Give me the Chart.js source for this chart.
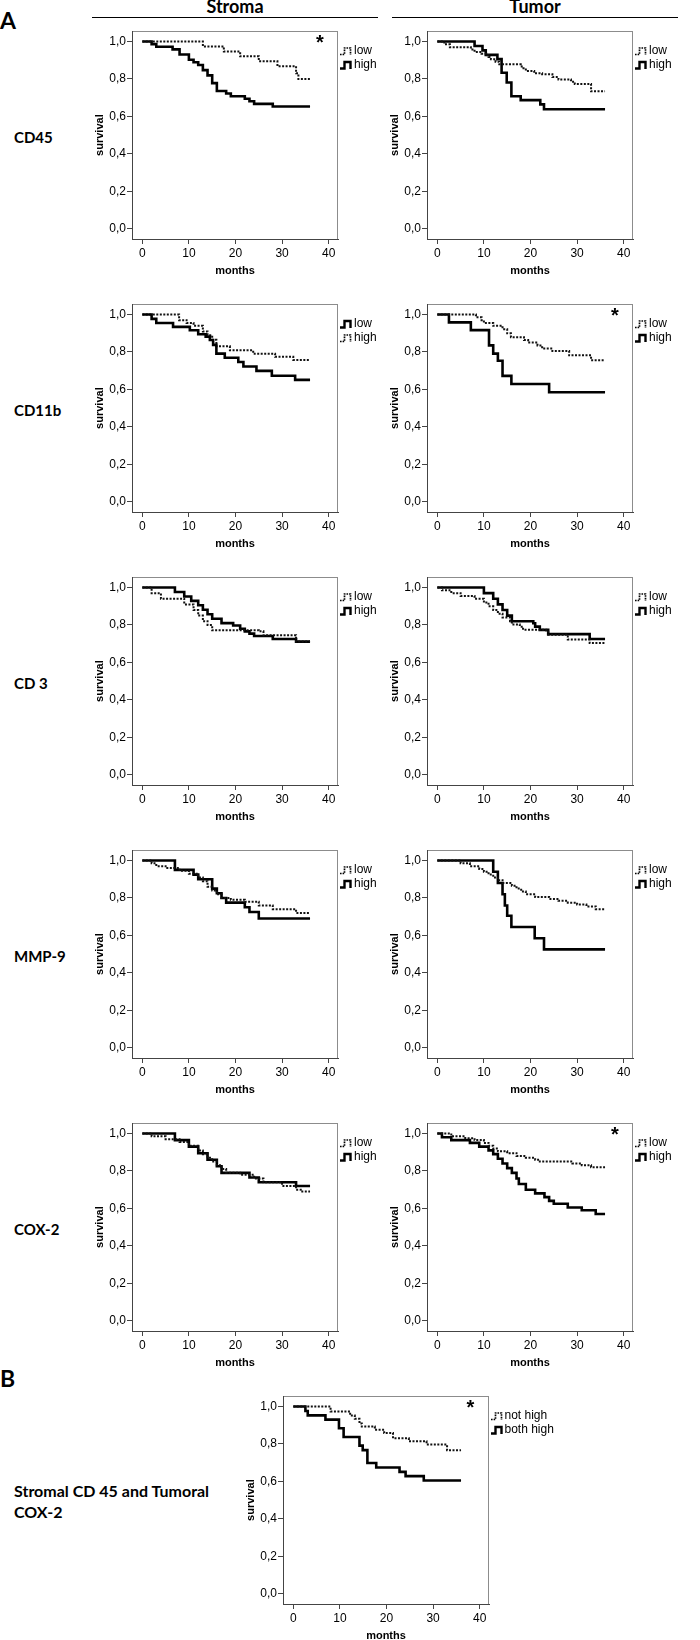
<!DOCTYPE html>
<html lang="en">
<head>
<meta charset="UTF-8">
<title>Survival curves - Stroma / Tumor</title>
<script src="https://cdn.jsdelivr.net/npm/chart.js"></script>
<style>
  body { margin: 0; background: #fff; }
  #page { position: relative; width: 700px; height: 1640px; overflow: hidden; font-family: "Liberation Sans", Arial, sans-serif; color: #000; }
  .abs { position: absolute; white-space: nowrap; }
  .head { font-family: Lato, "Liberation Sans", sans-serif; font-weight: bold; }
  .rule { position: absolute; height: 0; border-top: 1.5px solid #000; }
  .legend { position: absolute; font-size: 12px; line-height: 14px; }
  .legend svg { vertical-align: -2px; }
  .star { position: absolute; font-weight: bold; font-size: 20px; line-height: 20px; }
</style>
</head>
<body>
<div id="page">
  <div class="abs head" style="left:0;top:8px;font-size:23px;line-height:24px;">A</div>
  <div class="abs head" style="left:235px;top:-4px;font-size:18px;line-height:21px;transform:translateX(-50%);">Stroma</div>
  <div class="abs head" style="left:535px;top:-4px;font-size:18px;line-height:21px;transform:translateX(-50%);">Tumor</div>
  <div class="rule" style="left:92px;top:17px;width:286px;"></div>
  <div class="rule" style="left:392px;top:17px;width:286px;"></div>
  <div class="abs head" style="left:0;top:1366px;font-size:23px;line-height:24px;">B</div>
  <div class="abs head" style="left:14px;top:1480px;font-size:16px;line-height:21px;">Stromal CD 45 and Tumoral<br>COX-2</div>
</div>

<script>
// axis ticks
const xTicks = [0, 10, 20, 30, 40];
const yTicks = [0, 0.2, 0.4, 0.6, 0.8, 1.0];
const yTickLabels = ['0,0', '0,2', '0,4', '0,6', '0,8', '1,0'];
const rowLabels = ['CD45', 'CD11b', 'CD 3', 'MMP-9', 'COX-2'];

// Kaplan-Meier steps: [months, survival]
const cd45StromaLow = [[0,1],[13,0.974],[17.5,0.947],[21,0.921],[25,0.895],[29,0.868],[33,0.83],[33.5,0.80],[36,0.80]];
const cd45StromaHigh = [[0,1],[2,0.986],[3,0.972],[6.5,0.958],[8,0.931],[10,0.903],[11,0.889],[12,0.875],[13,0.847],[14,0.819],[15,0.778],[16,0.736],[18,0.722],[19,0.708],[22,0.694],[23,0.681],[24,0.667],[28,0.653],[36,0.653]];
const cd45TumorLow = [[0,1],[1.5,0.985],[2.7,0.97],[7.2,0.958],[8,0.944],[9.5,0.935],[10.5,0.927],[11,0.918],[11.5,0.906],[12.5,0.892],[13.3,0.878],[17.9,0.866],[18.5,0.857],[19,0.843],[20.8,0.83],[22.5,0.825],[24.7,0.81],[26,0.797],[28.7,0.785],[29.5,0.773],[33,0.734],[36,0.734]];
const cd45TumorHigh = [[0,1],[8,0.976],[9.7,0.953],[10.4,0.929],[12.9,0.906],[13.8,0.833],[14.9,0.781],[15.9,0.708],[17.9,0.687],[22.1,0.664],[22.9,0.638],[36,0.638]];

const cd11bStromaLow = [[0,1],[2,0.977],[3,0.955],[6.6,0.934],[10.2,0.916],[12,0.895],[13.6,0.882],[14.5,0.864],[15.2,0.838],[15.9,0.791],[17.7,0.769],[20.6,0.746],[21.7,0.722],[24.5,0.699],[27.8,0.673],[32.8,0.651],[36,0.651]];
const cd11bStromaHigh = [[0,1],[7.9,0.97],[9.5,0.955],[11,0.94],[13,0.91],[14,0.89],[15,0.865],[15.9,0.83],[18.8,0.809],[23.8,0.791],[28.5,0.774],[32.4,0.757],[36,0.757]];
const cd11bTumorLow = [[0,1],[8.3,0.985],[9.5,0.97],[10,0.955],[12,0.94],[14,0.922],[15,0.9],[15.8,0.879],[18.6,0.864],[19.5,0.85],[21.5,0.835],[22.5,0.818],[24.7,0.805],[28.3,0.782],[33,0.756],[36,0.756]];
const cd11bTumorHigh = [[0,1],[2.5,0.958],[7.2,0.917],[11.1,0.835],[12,0.791],[13,0.753],[14,0.672],[15.9,0.629],[24,0.585],[36,0.585]];

const cd3StromaLow = [[0,1],[2,0.97],[4,0.94],[9,0.91],[11,0.88],[12,0.85],[13,0.82],[14,0.80],[15,0.772],[25,0.766],[26,0.745],[33,0.711],[36,0.711]];
const cd3StromaHigh = [[0,1],[7,0.976],[9,0.952],[10.5,0.929],[12,0.905],[13,0.881],[14,0.857],[15,0.833],[17,0.81],[19.5,0.797],[21,0.78],[22,0.766],[23,0.754],[24,0.741],[28,0.725],[33,0.711],[36,0.711]];
const cd3TumorLow = [[0,1],[1,0.985],[3,0.97],[5,0.955],[8,0.94],[10,0.92],[11,0.9],[12,0.88],[13,0.86],[14,0.84],[15.6,0.82],[16,0.803],[17.7,0.791],[18.4,0.774],[23.4,0.77],[23.8,0.748],[27.7,0.739],[28,0.722],[32.7,0.704],[36,0.704]];
const cd3TumorHigh = [[0,1],[10,0.97],[12,0.94],[13,0.91],[14,0.88],[15,0.85],[16,0.82],[20.6,0.809],[21,0.791],[22,0.774],[23.8,0.751],[32.7,0.725],[36,0.725]];

const mmp9StromaLow = [[0,1],[2,0.985],[3,0.97],[5,0.96],[8,0.945],[10,0.93],[12,0.91],[13,0.89],[14,0.86],[15,0.84],[16,0.82],[17,0.8],[19,0.79],[22,0.78],[25,0.76],[28,0.74],[33,0.72],[36,0.72]];
const mmp9StromaHigh = [[0,1],[7,0.95],[11,0.925],[12,0.9],[15,0.85],[16,0.825],[17,0.8],[18,0.775],[22,0.75],[23,0.725],[25,0.69],[36,0.69]];
const mmp9TumorLow = [[0,1],[5,0.985],[7,0.97],[9,0.955],[10,0.94],[11,0.925],[12,0.91],[13,0.895],[14,0.88],[16,0.865],[17,0.85],[18,0.835],[19,0.82],[21,0.805],[24,0.795],[26,0.785],[28,0.775],[30,0.765],[32,0.755],[34,0.74],[36,0.74]];
const mmp9TumorHigh = [[0,1],[12,0.94],[13,0.88],[14,0.82],[14.5,0.76],[15,0.705],[15.9,0.645],[20.9,0.585],[22.9,0.525],[36,0.525]];

const cox2StromaLow = [[0,1],[2,0.985],[5,0.97],[8,0.955],[10,0.935],[12,0.91],[13,0.89],[14,0.87],[15,0.85],[16,0.83],[17,0.81],[18,0.79],[21,0.78],[24,0.76],[26,0.74],[30,0.72],[33,0.70],[34,0.69],[36,0.69]];
const cox2StromaHigh = [[0,1],[7,0.965],[10,0.93],[12,0.895],[14,0.86],[16,0.825],[17,0.79],[23,0.765],[25,0.74],[33,0.72],[36,0.72]];
const cox2TumorLow = [[0,1],[3,0.985],[6,0.975],[8,0.965],[10,0.95],[11,0.935],[12,0.92],[13,0.905],[15,0.895],[17,0.88],[19,0.87],[21,0.86],[22,0.85],[29,0.84],[31,0.83],[33,0.82],[36,0.82]];
const cox2TumorHigh = [[0,1],[1,0.98],[3,0.965],[7,0.95],[9,0.93],[11,0.91],[12,0.89],[13,0.865],[14,0.84],[15,0.815],[16,0.79],[17,0.76],[17.5,0.73],[19,0.70],[21,0.68],[23,0.66],[24,0.64],[25,0.625],[28,0.605],[31,0.59],[34,0.57],[36,0.57]];

const comboNotHigh = [[0,1],[8,0.974],[12.2,0.952],[13.2,0.935],[14.2,0.91],[14.7,0.893],[17.5,0.876],[19.5,0.858],[21.4,0.83],[24.8,0.814],[28.6,0.797],[33,0.766],[36,0.766]];
const comboBothHigh = [[0,1],[2.6,0.976],[3.1,0.953],[6.9,0.93],[9.8,0.884],[10.8,0.837],[14.2,0.791],[14.9,0.767],[15.9,0.698],[17.8,0.674],[22.8,0.651],[24.1,0.628],[28,0.605],[36,0.605]];

// layout
const BOX_W = 206, BOX_H = 211, ROW_STEP = 273, FIRST_TOP = 28;
const AXIS_L = 45, AXIS_B = 45, PAD = 5;
const colLeft = { S: 132, T: 427, B: 282.5 };
const X_MIN = -2.21, X_MAX = 42.0, Y_MIN = -0.0553, Y_MAX = 1.0553;
const FONT = '"Liberation Sans", Arial, sans-serif';

const panels = [
  { col: 'S', row: 0, star: true,  series: [['low', cd45StromaLow, false], ['high', cd45StromaHigh, true]] },
  { col: 'T', row: 0, star: false, series: [['low', cd45TumorLow, false], ['high', cd45TumorHigh, true]] },
  { col: 'S', row: 1, star: false, series: [['low', cd11bStromaLow, true], ['high', cd11bStromaHigh, false]] },
  { col: 'T', row: 1, star: true,  series: [['low', cd11bTumorLow, false], ['high', cd11bTumorHigh, true]] },
  { col: 'S', row: 2, star: false, series: [['low', cd3StromaLow, false], ['high', cd3StromaHigh, true]] },
  { col: 'T', row: 2, star: false, series: [['low', cd3TumorLow, false], ['high', cd3TumorHigh, true]] },
  { col: 'S', row: 3, star: false, series: [['low', mmp9StromaLow, false], ['high', mmp9StromaHigh, true]] },
  { col: 'T', row: 3, star: false, series: [['low', mmp9TumorLow, false], ['high', mmp9TumorHigh, true]] },
  { col: 'S', row: 4, star: false, series: [['low', cox2StromaLow, false], ['high', cox2StromaHigh, true]] },
  { col: 'T', row: 4, star: true,  series: [['low', cox2TumorLow, false], ['high', cox2TumorHigh, true]] },
  { col: 'B', row: 5, star: true,  series: [['not high', comboNotHigh, false], ['both high', comboBothHigh, true]] }
];

const page = document.getElementById('page');

// row labels
rowLabels.forEach((txt, i) => {
  const d = document.createElement('div');
  d.className = 'abs head';
  d.style.cssText = 'left:14px;font-size:15px;line-height:18px;top:' + (128 + ROW_STEP * i) + 'px;';
  d.textContent = txt;
  page.appendChild(d);
});

// grey frame round the plot area
const framePlugin = {
  id: 'frame',
  beforeDraw(chart) {
    const a = chart.chartArea, ctx = chart.ctx;
    ctx.save();
    ctx.strokeStyle = '#8c8c8c';
    ctx.lineWidth = 1;
    ctx.strokeRect(Math.round(a.left) + 0.5, Math.round(a.top) + 0.5, Math.round(a.right - a.left) - 1, Math.round(a.bottom - a.top));
    ctx.restore();
  }
};

function markerSvg(solid) {
  const dash = solid ? '' : ' stroke-dasharray="1.6 1"';
  const w = solid ? 2.4 : 1.7;
  return '<svg width="14" height="10" viewBox="0 0 14 10"><path d="M0 8.5 H4.5 V2 H10.5 V9" fill="none" stroke="#000" stroke-width="' + w + '"' + dash + '/></svg>';
}

function drawPanel(p) {
  const left = colLeft[p.col];
  const top = FIRST_TOP + ROW_STEP * p.row;
  const W = AXIS_L + BOX_W + PAD, H = PAD + BOX_H + AXIS_B;

  const wrap = document.createElement('div');
  wrap.className = 'abs';
  wrap.style.left = (left - AXIS_L) + 'px';
  wrap.style.top = (top - PAD) + 'px';
  const cv = document.createElement('canvas');
  cv.width = W; cv.height = H;
  cv.style.width = W + 'px'; cv.style.height = H + 'px';
  wrap.appendChild(cv);
  page.appendChild(wrap);

  const datasets = p.series.map(([label, pts, solid]) => ({
    label: label,
    data: pts.map(([x, y]) => ({ x: x, y: y })),
    stepped: true,
    borderColor: solid ? '#000' : '#111',
    borderWidth: solid ? 2.6 : 2,
    borderDash: solid ? [] : [2, 1.5],
    pointRadius: 0,
    fill: false
  }));

  new Chart(cv, {
    type: 'line',
    data: { datasets: datasets },
    options: {
      responsive: false,
      animation: false,
      devicePixelRatio: 1,
      layout: { padding: { left: 0, top: PAD, right: PAD, bottom: 0 } },
      plugins: { legend: { display: false }, tooltip: { enabled: false } },
      scales: {
        x: {
          type: 'linear', min: X_MIN, max: X_MAX,
          afterBuildTicks: axis => { axis.ticks = xTicks.map(v => ({ value: v })); },
          afterFit: axis => { axis.height = AXIS_B; },
          grid: { drawOnChartArea: false, drawTicks: true, tickLength: 5, color: '#444' },
          border: { display: true, color: '#444', width: 1 },
          ticks: { color: '#000', font: { size: 12, family: FONT }, padding: 2, maxRotation: 0, autoSkip: false,
                   callback: (v, i) => String(xTicks[i]) },
          title: { display: true, text: 'months', color: '#000', font: { size: 11, weight: 'bold', family: FONT }, padding: { top: 0, bottom: 6 } }
        },
        y: {
          type: 'linear', min: Y_MIN, max: Y_MAX,
          afterBuildTicks: axis => { axis.ticks = yTicks.map(v => ({ value: v })); },
          afterFit: axis => { axis.width = AXIS_L; },
          grid: { drawOnChartArea: false, drawTicks: true, tickLength: 5, color: '#444' },
          border: { display: true, color: '#444', width: 1 },
          ticks: { color: '#000', font: { size: 12, family: FONT }, padding: 1, autoSkip: false,
                   callback: (v, i) => yTickLabels[i] },
          title: { display: true, text: 'survival', color: '#000', font: { size: 11, weight: 'bold', family: FONT }, padding: { top: 6, bottom: 0 } }
        }
      }
    },
    plugins: [framePlugin]
  });

  // legend
  const right = left + BOX_W;
  p.series.forEach(([label, pts, solid], k) => {
    const lg = document.createElement('div');
    lg.className = 'legend';
    lg.style.left = (right + 2) + 'px';
    lg.style.top = (top + 15 + 14 * k) + 'px';
    lg.innerHTML = markerSvg(solid) + '<span>' + label + '</span>';
    page.appendChild(lg);
  });

  if (p.star) {
    const s = document.createElement('div');
    s.className = 'star';
    s.style.left = (right - 22) + 'px';
    s.style.top = (top + 4) + 'px';
    s.textContent = '*';
    page.appendChild(s);
  }
}

panels.forEach(drawPanel);
</script>
</body>
</html>
